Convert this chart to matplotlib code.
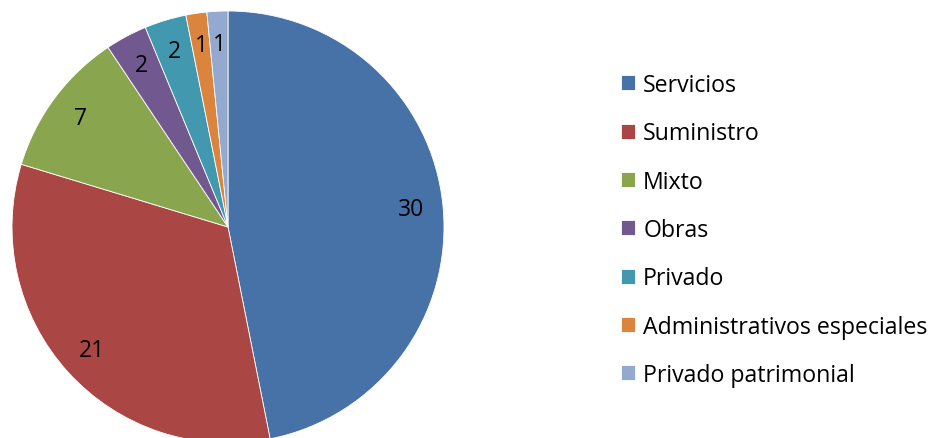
import matplotlib.pyplot as plt

categorias = ["Servicios", "Suministro", "Mixto", "Obras", "Privado",
              "Administrativos especiales", "Privado patrimonial"]
valores = [30, 21, 7, 2, 2, 1, 1]
colores = ["#4672A7", "#AA4744", "#89A54E", "#71588F", "#4198AF", "#DB843D", "#93A9CF"]

plt.rcParams['font.family'] = ['Open Sans', 'DejaVu Sans']

total = sum(valores)

fig = plt.figure(figsize=(9.34, 4.39), dpi=100)
# pie centre ~ (228, 228) px, radius ~216 px
ax = fig.add_axes([12 / 934, (439 - 228 - 216) / 439, 432 / 934, 432 / 439])
wedges, texts, autotexts = ax.pie(
    valores, colors=colores, startangle=90, counterclock=False,
    autopct=lambda p: f"{round(p * total / 100):d}", pctdistance=0.85,
    wedgeprops=dict(edgecolor="white", linewidth=0.6),
    textprops=dict(fontsize=16.5, color="black"))
ax.set_xlim(-1, 1)
ax.set_ylim(-1, 1)
ax.set_aspect("equal")

fig.legend(wedges, categorias, loc="center left",
           bbox_to_anchor=(600 / 934, 1 - 231 / 439), frameon=False,
           fontsize=16.7, handlelength=0.63, handleheight=0.63,
           handletextpad=0.33, labelspacing=1.05)

fig.savefig("out.png", dpi=100)
